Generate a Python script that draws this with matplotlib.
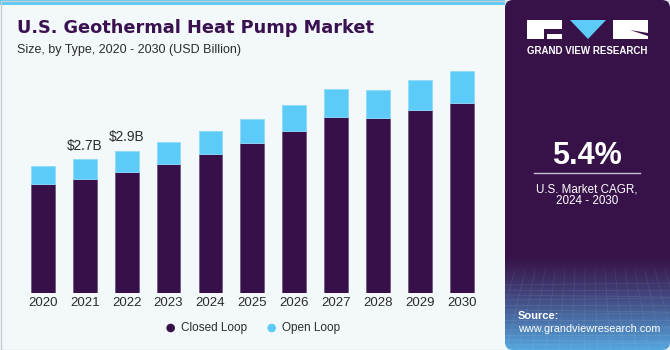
import numpy as np
import matplotlib.pyplot as plt
from matplotlib.patches import FancyBboxPatch, Rectangle, Polygon, Circle

# data (USD Billion)
years = ['2020', '2021', '2022', '2023', '2024', '2025', '2026', '2027', '2028', '2029', '2030']
closed_loop = [2.19, 2.30, 2.44, 2.61, 2.80, 3.02, 3.27, 3.55, 3.53, 3.68, 3.84]
open_loop = [0.37, 0.40, 0.43, 0.44, 0.46, 0.48, 0.53, 0.56, 0.57, 0.61, 0.64]
labels = {1: '$2.7B', 2: '$2.9B'}

C_CLOSED = '#37104a'
C_OPEN = '#5ccbf8'
C_BG = '#f3f8fb'
C_PANEL = '#371248'
C_TEXT = '#2b2b2b'

W, H = 670, 350
fig = plt.figure(figsize=(W / 100, H / 100), dpi=100)
fig.patch.set_facecolor(C_BG)

# background / decoration layer in pixel coords
bg = fig.add_axes([0, 0, 1, 1])
bg.set_xlim(0, W)
bg.set_ylim(H, 0)
bg.axis('off')
bg.add_patch(Rectangle((0, 0), 505, 4.5, color=C_OPEN, lw=0))
bg.add_patch(Rectangle((0.5, 0.5), W - 1, H - 1, fill=False, ec='#c8ccd0', lw=1))

# right panel with gradient at bottom
top = np.array([0x37, 0x12, 0x48]) / 255
bot = np.array([0x55, 0xa8, 0xe0]) / 255
img = np.zeros((350, 1, 3))
for i in range(350):
    t = 0 if i < 255 else ((i - 255) / 95) ** 1.2
    img[i, 0] = top * (1 - t) + bot * t
panel = FancyBboxPatch((505, 0), 165, 350, boxstyle='round,pad=0,rounding_size=8',
                       fc='none', ec='none', transform=bg.transData)
bg.add_patch(panel)
im = bg.imshow(img, extent=(505, 670, 350, 0), aspect='auto', zorder=1)
im.set_clip_path(panel)
# faint grid texture
for k in range(14):
    yy = 285 + k * 5
    bg.plot([505, 670], [yy, yy + (k % 3 - 1) * 2], color='white', alpha=0.08, lw=0.6, zorder=2)
for k in range(18):
    xx = 505 + k * 10
    bg.plot([xx, xx + (xx - 587) * 0.3], [270, 350], color='white', alpha=0.07, lw=0.6, zorder=2)

# logo
bg.add_patch(Rectangle((527, 20), 35, 19, color='white', lw=0, zorder=3))
bg.add_patch(Rectangle((544, 29), 18, 5, color=C_PANEL, lw=0, zorder=4))
bg.add_patch(Rectangle((544, 29), 3, 10, color=C_PANEL, lw=0, zorder=4))
bg.add_patch(Polygon([(570, 20), (606, 20), (588, 39)], color=C_OPEN, lw=0, zorder=3))
bg.add_patch(Rectangle((613, 20), 35, 19, color='white', lw=0, zorder=3))
bg.add_patch(Polygon([(630, 30), (648, 36), (648, 33)], color=C_PANEL, lw=0, zorder=4))
bg.text(587.5, 51, 'GRAND VIEW RESEARCH', color='white', fontsize=7, fontweight='bold',
        ha='center', va='center', family='Liberation Sans', zorder=5)

bg.text(587, 156, '5.4%', color='white', fontsize=22, fontweight='bold',
        ha='center', va='center', family='Liberation Sans', zorder=5)
bg.plot([534, 640], [173, 173], color='#c9bfd2', lw=1, zorder=5)
bg.text(587, 190, 'U.S. Market CAGR,', color='white', fontsize=8.4,
        ha='center', va='center', family='Liberation Sans', zorder=5)
bg.text(587, 201, '2024 - 2030', color='white', fontsize=8.4,
        ha='center', va='center', family='Liberation Sans', zorder=5)
bg.text(518, 316, 'Source:', color='white', fontsize=8, fontweight='bold',
        ha='left', va='center', family='Liberation Sans', zorder=5)
bg.text(518, 329, 'www.grandviewresearch.com', color='white', fontsize=7.8,
        ha='left', va='center', family='Liberation Sans', zorder=5)

# titles
bg.text(17, 28, 'U.S. Geothermal Heat Pump Market', color='#3a1250', fontsize=12.8,
        fontweight='heavy', ha='left', va='center', family='DejaVu Sans')
bg.text(17, 50, 'Size, by Type, 2020 - 2030 (USD Billion)', color=C_TEXT, fontsize=9,
        ha='left', va='center', family='Liberation Sans')

# legend
bg.add_patch(Circle((170.7, 328), 4.3, color=C_CLOSED, lw=0))
bg.text(181, 328, 'Closed Loop', color=C_TEXT, fontsize=8.5, ha='left', va='center',
        family='Liberation Sans')
bg.add_patch(Circle((271.7, 328), 4.3, color=C_OPEN, lw=0))
bg.text(282, 328, 'Open Loop', color=C_TEXT, fontsize=8.5, ha='left', va='center',
        family='Liberation Sans')

# chart axes
ax = fig.add_axes([21.8 / W, 57 / H, (483 - 21.8) / W, 233 / H])
ax.set_facecolor('none')
x = np.arange(len(years))
ymax = 233 / 49.6
ax.bar(x, closed_loop, width=0.57, color=C_CLOSED, edgecolor='#6e5a80', linewidth=0.6)
ax.bar(x, open_loop, bottom=closed_loop, width=0.57, color=C_OPEN, edgecolor='#8fdcfb',
       linewidth=0.6)
for i, lab in labels.items():
    ax.text(x[i], closed_loop[i] + open_loop[i] + 0.13, lab, ha='center', va='bottom',
            fontsize=9.8, color=C_TEXT, family='Liberation Sans')
ax.set_xlim(-0.5, 10.5)
ax.set_ylim(0, ymax)
ax.set_xticks(x)
ax.set_xticklabels(years, fontsize=9.5, color=C_TEXT, family='Liberation Sans')
ax.tick_params(axis='x', length=0, pad=3)
ax.set_yticks([])
for s in ax.spines.values():
    s.set_visible(False)

fig.savefig('out.png', dpi=100, facecolor=fig.get_facecolor())
